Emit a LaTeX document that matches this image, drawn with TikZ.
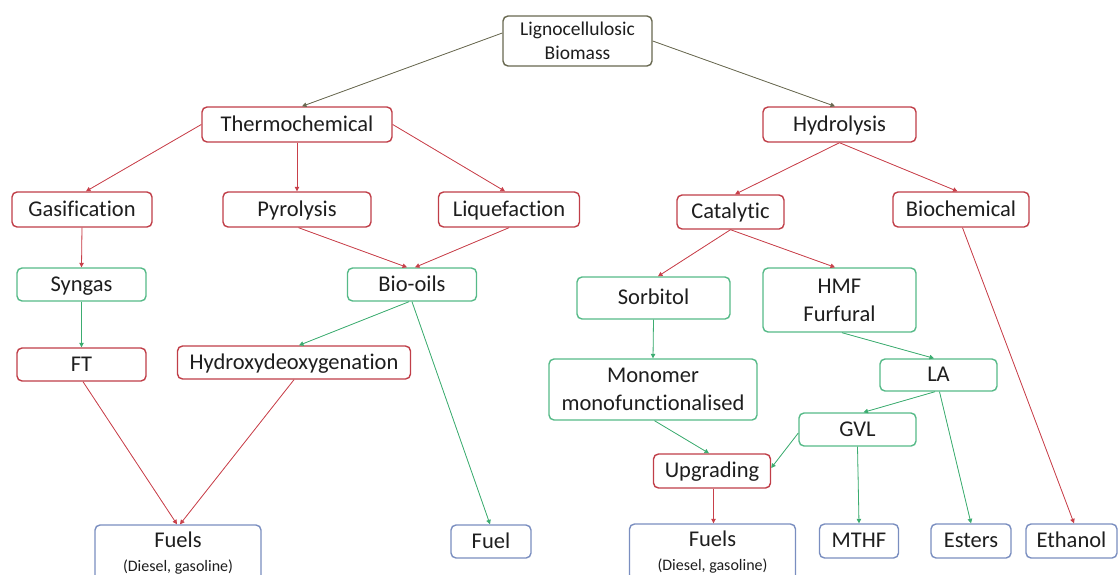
\documentclass[tikz,border=0pt]{standalone}
\usepackage{fontspec}
\setmainfont{Carlito}[Ligatures=NoCommon]
\usetikzlibrary{arrows.meta}
\definecolor{boxred}{RGB}{192,62,72}
\definecolor{boxgreen}{RGB}{86,186,136}
\definecolor{boxblue}{RGB}{122,142,192}
\definecolor{boxolive}{RGB}{104,104,80}
\definecolor{arrred}{RGB}{200,64,74}
\definecolor{arrgreen}{RGB}{60,172,112}
\definecolor{txt}{RGB}{30,30,30}
\newcommand{\subnote}[1]{{\fontsize{16}{18}\selectfont #1}}
\tikzset{
  box/.style={draw, rounded corners=5pt, line width=1.4pt, fill=white, inner sep=0pt,
    align=center, text=txt, font=\fontsize{22.5}{28}\selectfont},
  oneline/.style={text height=16pt, text depth=3pt},
  redbox/.style={box, draw=boxred},
  greenbox/.style={box, draw=boxgreen},
  bluebox/.style={box, draw=boxblue},
  olivebox/.style={box, draw=boxolive, font=\fontsize{19.5}{24}\selectfont},
  wh/.style 2 args={minimum width=#1pt, minimum height=#2pt},
  link/.style={line width=0.8pt, -{Triangle[length=4.5pt,width=4.5pt]}},
  redlink/.style={link, draw=arrred, fill=arrred},
  greenlink/.style={link, draw=arrgreen, fill=arrgreen},
  olivelink/.style={link, draw=boxolive, fill=boxolive}
}
\begin{document}
\begin{tikzpicture}[x=1pt,y=-1pt]
\useasboundingbox (0,0) rectangle (1120,574);
\clip (0,0) rectangle (1120,574);

% top level
\node[olivebox, wh={149}{50}] (bio) at (577.5,41) {Lignocellulosic\\Biomass};
\node[redbox, oneline, wh={190}{35}] (thermo) at (297,124.5) {Thermochemical};
\node[redbox, oneline, wh={153}{35}] (hydro) at (839.5,124.5) {Hydrolysis};

% processes
\node[redbox, oneline, wh={140}{35}] (gasif) at (82,209.5) {Gasification};
\node[redbox, oneline, wh={148}{35}] (pyro) at (297,209.5) {Pyrolysis};
\node[redbox, oneline, wh={141}{35}] (liq) at (509,209.5) {Liquefaction};
\node[redbox, oneline, wh={107}{34}] (cat) at (730.5,212) {Catalytic};
\node[redbox, oneline, wh={136}{35}] (biochem) at (961,209.5) {Biochemical};

% intermediates
\node[greenbox, oneline, wh={129}{33}] (syngas) at (81.5,284.5) {Syngas};
\node[greenbox, oneline, wh={129}{33}] (biooils) at (412,284.5) {Bio-oils};
\node[greenbox, oneline, wh={153}{42}] (sorb) at (653.5,298) {Sorbitol};
\node[greenbox, wh={153}{64}] (hmf) at (839.5,300) {HMF\\Furfural};
\node[redbox, oneline, wh={129}{33}] (ft) at (81.5,364.5) {FT};
\node[redbox, oneline, wh={233}{33}] (hdo) at (294,362.5) {Hydroxydeoxygenation};
\node[greenbox, wh={208}{61}] (mono) at (653,389.5) {Monomer\\monofunctionalised};
\node[greenbox, oneline, wh={117}{32}] (la) at (938.5,375) {LA};
\node[greenbox, oneline, wh={117}{33}] (gvl) at (857.5,429.5) {GVL};
\node[redbox, oneline, wh={117}{34}] (upg) at (712,471) {Upgrading};

% products
\node[bluebox, wh={166}{56}] (fuelsL) at (178,553) {Fuels\\[-4pt]\subnote{(Diesel, gasoline)}};
\node[bluebox, oneline, wh={80}{33}] (fuel) at (491,541.5) {Fuel};
\node[bluebox, wh={166}{56}] (fuelsR) at (712.5,552) {Fuels\\[-4pt]\subnote{(Diesel, gasoline)}};
\node[bluebox, oneline, wh={79}{34}] (mthf) at (859,541) {MTHF};
\node[bluebox, oneline, wh={80}{34}] (esters) at (971,541) {Esters};
\node[bluebox, oneline, wh={91}{34}] (ethanol) at (1071.5,541) {Ethanol};

% connectors
\draw[olivelink] ([yshift=8pt]bio.west) -- ([xshift=5pt]thermo.north);
\draw[olivelink] (bio.east) -- ([xshift=-4.5pt]hydro.north);

\draw[redlink] (thermo.west) -- ([xshift=4pt]gasif.north);
\draw[redlink] (thermo.south) -- (pyro.north);
\draw[redlink] (thermo.east) -- ([xshift=-4pt]liq.north);
\draw[redlink] (gasif.south) -- (syngas.north);
\draw[redlink] ([xshift=1.5pt]pyro.south) -- ([xshift=-5pt]biooils.north);
\draw[redlink] (liq.south) -- ([xshift=3pt]biooils.north);

\draw[redlink] (hydro.south) -- ([xshift=4.5pt]cat.north);
\draw[redlink] (hydro.south) -- ([xshift=-3.5pt]biochem.north);
\draw[redlink] (cat.south) -- ([xshift=4.5pt]sorb.north);
\draw[redlink] (cat.south) -- ([xshift=-4.5pt]hmf.north);
\draw[redlink] ([xshift=1.5pt]biochem.south) -- ([xshift=2.5pt]ethanol.north);

\draw[greenlink] (syngas.south) -- (ft.north);
\draw[greenlink] ([xshift=-3pt]biooils.south) -- ([xshift=5pt]hdo.north);
\draw[greenlink] (biooils.south) -- ([xshift=-1pt]fuel.north);
\draw[redlink] ([xshift=1.5pt]ft.south) -- ([xshift=-1pt]fuelsL.north);
\draw[redlink] (hdo.south) -- ([xshift=2pt]fuelsL.north);

\draw[greenlink] (sorb.south) -- (mono.north);
\draw[greenlink] ([xshift=2.5pt]hmf.south) -- ([xshift=-4.5pt]la.north);
\draw[greenlink] ([xshift=-3.5pt]la.south) -- ([xshift=6pt]gvl.north);
\draw[greenlink] ([xshift=1pt]la.south) -- (esters.north);
\draw[greenlink] (gvl.south) -- (mthf.north);
\draw[greenlink] ([xshift=1.5pt]mono.south) -- ([xshift=-3pt]upg.north);
\draw[greenlink] ([yshift=-3.5pt]gvl.west) -- ([yshift=3pt]upg.east);
\draw[redlink] ([xshift=1.5pt]upg.south) -- ([xshift=1pt]fuelsR.north);
\end{tikzpicture}
\end{document}
